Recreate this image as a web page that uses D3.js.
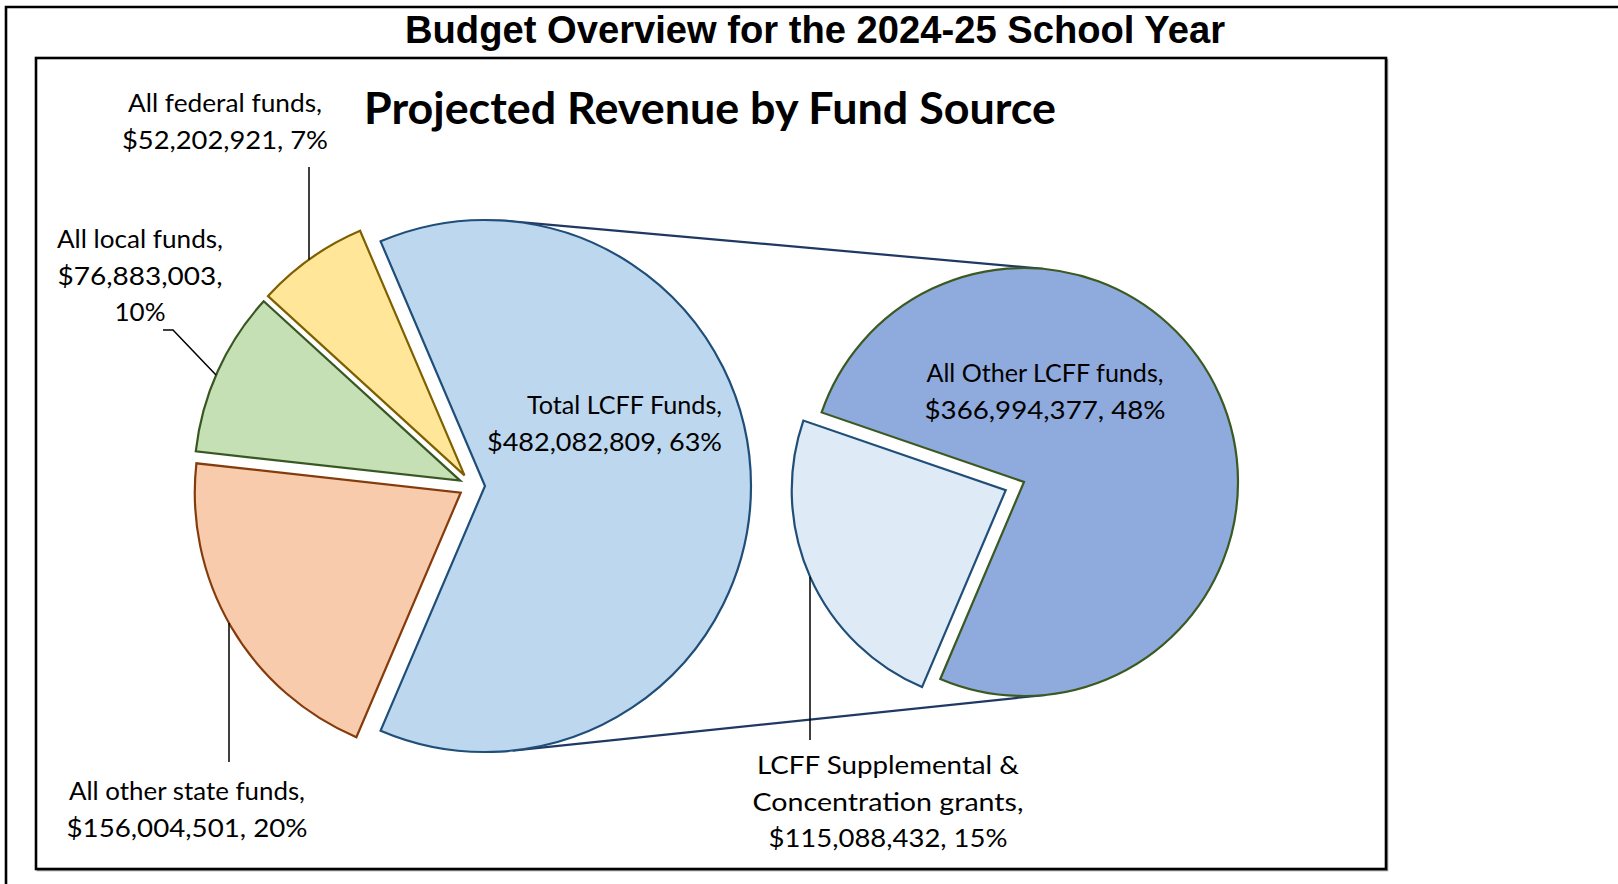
<!DOCTYPE html>
<html><head><meta charset="utf-8">
<script src="https://cdn.jsdelivr.net/npm/d3@7"></script>
<style>body{margin:0;background:#fff;} svg{display:block;}</style>
</head><body>
<svg id="chart" width="1618" height="884"></svg>
<script>
// ---------- DATA ----------
const pageTitle = "Budget Overview for the 2024-25 School Year";
const chartTitle = "Projected Revenue by Fund Source";
const mainCategories = ["Total LCFF Funds", "All other state funds", "All local funds", "All federal funds"];
const mainValues = [482082809, 156004501, 76883003, 52202921];
const subCategories = ["All Other LCFF funds", "LCFF Supplemental & Concentration grants"];
const subValues = [366994377, 115088432];

// ---------- LAYOUT / STYLE ----------
const mainFills = ["#BDD7EE", "#F8CBAD", "#C5E0B4", "#FFE699"];
const mainStrokes = ["#1F4E79", "#843C0C", "#385723", "#7F6000"];
const subFills = ["#8FAADC", "#DEEBF7"];
const subStrokes = ["#3A5A22", "#1F4E79"];

const mainC = {x: 472, y: 486}, mainR = 266, mainExplode = [13, 13, 13, 13];
const subC = {x: 1024, y: 482}, subR = 214, subExplode = [0, 20];
const subLightMid = 246 * Math.PI / 180;

const labelFont = "Lato, 'Open Sans', sans-serif";
const lineH = 36.5;
// label layout: which data item, anchor, x, first baseline, line widths
const mainLabelLayout = [
  {i: 0, anchor: "end", x: 722, y: 414, widths: [195, 235], split: "name|value, pct"},
  {i: 1, anchor: "middle", x: 187, y: 800, widths: [236, 241], split: "name|value, pct"},
  {i: 2, anchor: "middle", x: 140, y: 248, widths: [166, 165, 51], split: "name|value|pct"},
  {i: 3, anchor: "middle", x: 225, y: 112, widths: [194, 206], split: "name|value, pct"}
];
const subLabelLayout = [
  {i: 0, anchor: "middle", x: 1045, y: 382, widths: [237, 241], split: "name|value, pct"},
  {i: 1, anchor: "middle", x: 888, y: 774, widths: [262, 271, 239], split: "name2|value, pct"}
];
// leader lines: slice, vertical x positions / elbows; last point is solved on the arc
const mainLeaders = [
  {i: 3, pts: [[309, 167]], endX: 309, side: -1},
  {i: 2, pts: [[163, 330], [173, 330]], endX: 216, side: -1},
  {i: 1, pts: [[229, 762]], endX: 229, side: 1}
];
const subLeaders = [
  {i: 1, pts: [[810, 740]], endX: 810, side: 1}
];

// ---------- DRAW ----------
const svg = d3.select("#chart");
const fmt = d3.format("$,");
const pct = d3.format(".0%");
const total = d3.sum(mainValues);

// frames
svg.append("path").attr("d", "M6,884 V7 H1618").attr("fill", "none")
  .attr("stroke", "#000").attr("stroke-width", 2.6);
svg.append("rect").attr("x", 37.5).attr("y", 59.5).attr("width", 1350).attr("height", 811)
  .attr("fill", "none").attr("stroke", "#9a9a9a").attr("stroke-width", 1.6);
svg.append("rect").attr("x", 36).attr("y", 58).attr("width", 1350).attr("height", 811)
  .attr("fill", "#fff").attr("stroke", "#000").attr("stroke-width", 2.6);

svg.append("text").attr("x", 815).attr("y", 43).attr("text-anchor", "middle")
  .attr("font-family", "'Liberation Sans', Arial, sans-serif").attr("font-weight", "bold")
  .attr("font-size", 38).attr("textLength", 820).attr("lengthAdjust", "spacingAndGlyphs")
  .text(pageTitle);

svg.append("text").attr("x", 710).attr("y", 124).attr("text-anchor", "middle")
  .attr("font-family", labelFont).attr("font-weight", "bold")
  .attr("font-size", 44.5).attr("textLength", 692).attr("lengthAdjust", "spacingAndGlyphs")
  .text(chartTitle);

// main pie
const mainFrac0 = mainValues[0] / total;
const a0 = Math.PI / 2 - mainFrac0 * Math.PI;
const mainPie = d3.pie().sort(null).value(d => d).startAngle(a0).endAngle(a0 + 2 * Math.PI);
const mainArcs = mainPie(mainValues);
const mainArc = d3.arc().innerRadius(0).outerRadius(mainR);
function offset(a, e, c) {
  const mid = (a.startAngle + a.endAngle) / 2;
  return {x: c.x + e * Math.sin(mid), y: c.y - e * Math.cos(mid)};
}
const mainCenters = mainArcs.map((a, i) => offset(a, mainExplode[i], mainC));

// sub pie
const subTotal = d3.sum(subValues);
const lightAng = subValues[1] / subTotal * 2 * Math.PI;
const darkAng = subValues[0] / subTotal * 2 * Math.PI;
const s0 = subLightMid + lightAng / 2;
const subPie = d3.pie().sort(null).value(d => d).startAngle(s0).endAngle(s0 + 2 * Math.PI);
const subArcs = subPie(subValues);
const subArc = d3.arc().innerRadius(0).outerRadius(subR);
const subCenters = subArcs.map((a, i) => offset(a, subExplode[i], subC));

// connector lines (external tangents between LCFF slice circle and secondary pie)
(function () {
  const c1 = mainCenters[0], c2 = subCenters[0];
  const dx = c2.x - c1.x, dy = c2.y - c1.y, d = Math.hypot(dx, dy);
  const base = Math.atan2(dy, dx);
  const th = Math.acos((mainR - subR) / d);
  [-1, 1].forEach(s => {
    const ang = base + s * th;
    svg.append("line")
      .attr("x1", c1.x + mainR * Math.cos(ang)).attr("y1", c1.y + mainR * Math.sin(ang))
      .attr("x2", c2.x + subR * Math.cos(ang)).attr("y2", c2.y + subR * Math.sin(ang))
      .attr("stroke", "#203864").attr("stroke-width", 2.2);
  });
})();

svg.append("g").selectAll("path").data(mainArcs).join("path")
  .attr("d", mainArc)
  .attr("transform", (d, i) => `translate(${mainCenters[i].x},${mainCenters[i].y})`)
  .attr("fill", (d, i) => mainFills[i]).attr("stroke", (d, i) => mainStrokes[i])
  .attr("stroke-width", 2.2).attr("stroke-linejoin", "miter");

svg.append("g").selectAll("path").data(subArcs).join("path")
  .attr("d", subArc)
  .attr("transform", (d, i) => `translate(${subCenters[i].x},${subCenters[i].y})`)
  .attr("fill", (d, i) => subFills[i]).attr("stroke", (d, i) => subStrokes[i])
  .attr("stroke-width", 2.2).attr("stroke-linejoin", "miter");

// leader lines
function leader(L, centers, R) {
  const c = centers[L.i];
  const dx = L.endX - c.x;
  const ey = c.y + L.side * Math.sqrt(R * R - dx * dx);
  const pts = L.pts.concat([[L.endX, ey]]);
  svg.append("path").attr("d", d3.line()(pts)).attr("fill", "none")
    .attr("stroke", "#000").attr("stroke-width", 1.5);
}
mainLeaders.forEach(L => leader(L, mainCenters, mainR));
subLeaders.forEach(L => leader(L, subCenters, subR));

// labels
function labelLines(name, value, frac, split) {
  const v = fmt(value), p = pct(frac);
  if (split === "name|value|pct") return [name + ",", v + ",", p];
  if (split === "name2|value, pct") {
    const k = name.indexOf("& ") + 1;
    return [name.slice(0, k), name.slice(k + 1) + ",", v + ", " + p];
  }
  return [name + ",", v + ", " + p];
}
function drawLabel(L, cats, vals) {
  const lines = labelLines(cats[L.i], vals[L.i], vals[L.i] / total, L.split);
  const g = svg.append("g");
  lines.forEach((t, k) => {
    g.append("text").attr("x", L.x).attr("y", L.y + k * lineH)
      .attr("text-anchor", L.anchor).attr("font-family", labelFont)
      .attr("font-size", 24.5).attr("fill", "#000")
      .attr("textLength", L.widths[k]).attr("lengthAdjust", "spacingAndGlyphs")
      .text(t);
  });
}
mainLabelLayout.forEach(L => drawLabel(L, mainCategories, mainValues));
subLabelLayout.forEach(L => drawLabel(L, subCategories, subValues));
</script>
</body></html>
